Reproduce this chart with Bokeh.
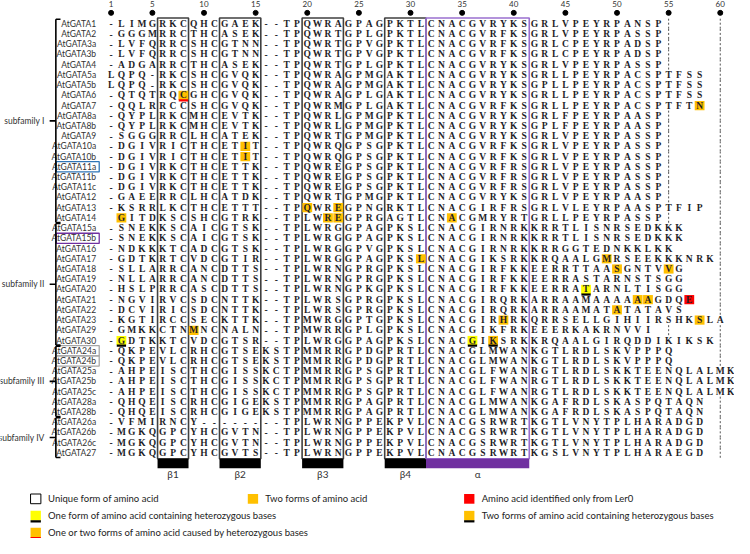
from bokeh.plotting import figure
from bokeh.models import Range1d
from bokeh.embed import file_html
from bokeh.resources import INLINE
from bokeh.core.properties import value

# ---------------- data ----------------
names = ["AtGATA1", "AtGATA2", "AtGATA3a", "AtGATA3b", "AtGATA4", "AtGATA5a", "AtGATA5b",
         "AtGATA6", "AtGATA7", "AtGATA8a", "AtGATA8b", "AtGATA9", "AtGATA10a", "AtGATA10b",
         "AtGATA11a", "AtGATA11b", "AtGATA11c", "AtGATA12", "AtGATA13", "AtGATA14",
         "AtGATA15a", "AtGATA15b", "AtGATA16", "AtGATA17", "AtGATA18", "AtGATA19", "AtGATA20",
         "AtGATA21", "AtGATA22", "AtGATA23", "AtGATA29", "AtGATA30", "AtGATA24a", "AtGATA24b",
         "AtGATA25a", "AtGATA25b", "AtGATA25c", "AtGATA28a", "AtGATA28b", "AtGATA26a",
         "AtGATA26b", "AtGATA26c", "AtGATA27"]

seqs = [
    "-LIMGRKCQHCGAEK--TPQWRAGPAGPKTLCNACGVRYKSGRLVPEYRPANSP",
    "-GGGMRRCTHCASEK--TPQWRTGPLGPKTLCNACGVRFKSGRLVPEYRPASSP",
    "-LVFQRRCSHCGTNN--TPQWRTGPVGPKTLCNACGVRFKSGRLCPEYRPADSP",
    "-LVFQRRCSHCGTNN--TPQWRTGPVGPKTLCNACGVRFKSGRLCPEYRPADSP",
    "-ADGARRCTHCASEK--TPQWRTGPLGPKTLCNACGVRYKSGRLVPEYRPASSP",
    "LQPQ-RKCSHCGVQK--TPQWRAGPMGAKTLCNACGVRYKSGRLLPEYRPACSPTFSS",
    "LQPQ-RKCSHCGVQK--TPQWRAGPMGAKTLCNACGVRYKSGPLLPEYRPACSPTFSS",
    "-QTQTRQCGHCGVQK--TPQWRAGPLGAKTLCNACGVRYKSGRLLPEYRPACSPTFSS",
    "-QQLRRCCSHCGVQK--TPQWRMGPLGAKTLCNACGVRFKSGRLLPEYRPACSPTFTN",
    "-QYPLRKCMHCEVTK--TPQWRLGPMGPKTLCNACGVRYKSGRLFPEYRPAASP",
    "-QYPLRKCMHCEVTK--TPQWRLGPMGPKTLCNACGVRYKSGPLFPEYRPAASP",
    "-SGGGRRCLHCATEK--TPQWRTGPMGPKTLCNACGVRYKSGRLVPEYRPASSP",
    "-DGIVRICTHCETIT--TPQWRQGPSGPKTLCNACGVRFKSGRLVPEYRPASSP",
    "-DGIVRICTHCETIT--TPQWRQGPSGPKTLCNACGVRFKSGRLVPEYRPASSP",
    "-DGIVRKCTHCETTK--TPQWREGPSGPKTLCNACGVRFRSGRLVPEYRPASSP",
    "-DGIVRKCTHCETTK--TPQWREGPSGPKTLCNACGVRFRSGRLVPEYRPASSP",
    "-DGIVRKCTHCETTK--TPQWREGPSGPKTLCNACGVRFRSGRLVPEYRPASSP",
    "-GAEERRCLHCATDK--TPQWRTGPMGPKTLCNACGVRYKSGRLVPEYRPAASP",
    "-KSRRLKCTHCETTT--TPQWREGPNGRKTLCNACGIRFRSGRLVLEYRPAASPTFIP",
    " GITDKSCSHCGTRK--TPLWREGPRGAGTLCNACGMRYRTGRLLPEYRPASSP",
    "-SNEKKSCAICGTSK--TPLWRGGPAGPKSLCNACGIRNRKKRRTLISNRSEDKKK",
    "-SNEKKSCAICGTSK--TPLWRGGPAGPKSLCNACGIRNRKKRRTLISNRSEDKKK",
    "-NDKKKTCADCGTSK--TPLWRGGPVGPKSLCNACGIRNRKKRRGGTEDNKKLKK",
    "-GDTKRTCVDCGTIR--TPLWRGGPAGPKSLCNACGIKSRKKRQAALGMRSEEKKKNRK",
    "-SLLARRCANCDTTS--TPLWRNGPRGPKSLCNACGIRFKKEERRTTAASGNTVVG",
    "-NLLARRCANCDTTS--TPLWRNGPRGPKSLCNACGIRFKKEERRASTARNSTSGG",
    "-HSLPRRCASCDTTS--TPLWRNGPKGPKSLCNACGIRFKKEERRATARNLTISGG",
    "-NGVIRVCSDCNTTK--TPLWRSGPRGPKSLCNACGIRQRKARRAAMAAAAAAGDQE",
    "-DCVIRICSDCNTTK--TPLWRSGPRGPKSLCNACGIRQRKARRAAMATATATAVS",
    "-KGTIRCCSECKTTK--TPMWRGGPTGPKSLCNACGIRHRKQRRSELLGIHIIRSHKSLA",
    "-GMKKCTNMNCNALN--TPMWRRGPLGPKSLCNACGIKFRKEEERKAKRNVVI",
    "-GDTKKTCVDCGTSR--TPLWRGGPAGPKSLCNACGIKSRKKRQAALGIRQDDIKIKSK",
    "-QKPEVLCRHCGTSEKSTPMMRRGPDGPRTLCNACGLMWANKGTLRDLSKVPPPQ",
    "-QKPEVLCRHCGTSEKSTPMMRRGPDGPRTLCNACGLMWANKGTLRDLSKVPPPQ",
    "-AHPEISCTHCGISSKCTPMMRRGPSGPRTLCNACGLFWANRGTLRDLSKKTEENQLALMK",
    "-AHPEISCTHCGISSKCTPMMRRGPSGPRTLCNACGLFWANRGTLRDLSKKTEENQLALMK",
    "-AHPEISCTHCGISSKCTPMMRRGPSGPRTLCNACGLFWANRGTLRDLSKKTEENQLALMK",
    "-QHQEISCRHCGIGEKSTPMMRRGPAGPRTLCNACGLMWANKGAFRDLSKASPQTAQN",
    "-QHQEISCRHCGIGEKSTPMMRRGPAGPRTLCNACGLMWANKGAFRDLSKASPQTAQN",
    "-VFMIRNCY--------TPLWRNGPPEKPVLCNACGSRWRTKGTLVNYTPLHARADGD",
    "-MGKQGPCYHCGVTN--TPLWRNGPPEKPVLCNACGSRWRTKGTLVNYTPLHARADGD",
    "-MGKQGPCYHCGVTN--TPLWRNGPPEKPVLCNACGSRWRTKGTLVNYTPLHARADGD",
    "-MGKQGPCYHCGVTS--TPLWRNGPPEKPVLCNACGSRWRTKGSLVNYTPLHARAEGD",
]

# highlighted residues: (sequence name, alignment column, kind)
hl_names = ["AtGATA6", "AtGATA7", "AtGATA10a", "AtGATA10b", "AtGATA13", "AtGATA13",
            "AtGATA14", "AtGATA14", "AtGATA14", "AtGATA14", "AtGATA17", "AtGATA17",
            "AtGATA18", "AtGATA18", "AtGATA20", "AtGATA21", "AtGATA21", "AtGATA21",
            "AtGATA22", "AtGATA23", "AtGATA23", "AtGATA29", "AtGATA30", "AtGATA30", "AtGATA30"]
hl_cols = [8, 58, 14, 14, 20, 23,
           2, 22, 23, 34, 31, 49,
           50, 55, 47, 52, 53, 57,
           50, 39, 58, 9, 2, 36, 38]
hl_kinds = ["orange_red", "orange", "orange", "orange", "orange", "orange",
            "orange", "orange", "orange", "orange", "orange", "orange",
            "orange", "orange", "yellow_ul", "orange", "orange", "red",
            "orange", "orange", "orange", "orange", "yellow_ul", "yellow_ul", "orange_ul"]

# secondary-structure regions (alignment columns)
struct_labels = ["β1", "β2", "β3", "β4", "α"]
struct_start = [6, 12, 20, 28, 32]
struct_end = [8, 15, 23, 31, 41]

# subfamilies (first/last row index, 1-based)
sub_labels = ["subfamily I", "subfamily II", "subfamily III", "subfamily IV"]
sub_first = [1, 21, 33, 40]
sub_last = [20, 32, 39, 43]

ruler_ticks = [1, 5, 10, 15, 20, 25, 30, 35, 40, 45, 50, 55, 60]
dashed_cols = [55, 60]

boxed_names = ["AtGATA11a", "AtGATA15b", "AtGATA24a", "AtGATA24b"]
boxed_colors = ["#2E75B6", "#7030A0", "#A6A6A6", "#A6A6A6"]

legend_labels = ["Unique form of amino acid", "Two forms of amino acid",
                 "Amino acid identified only from Ler0",
                 "One form of amino acid containing heterozygous bases",
                 "Two forms of amino acid containing heterozygous bases",
                 "One or two forms of amino acid caused by heterozygous bases"]
legend_kinds = ["empty", "orange", "red", "yellow_ul", "orange_ul", "orange_red"]

# ---------------- styles / layout ----------------
FILL = {"orange": "#FFC000", "orange_red": "#FFC000", "orange_ul": "#FFC000",
        "yellow_ul": "#FFFF00", "red": "#FF0000", "empty": "#FFFFFF"}
ULINE = {"orange_red": "#FF0000", "orange_ul": "#000000", "yellow_ul": "#000000"}

NAME_X = -0.45          # right edge of sequence names (column units)
BRACKET_X = -4.35
LABEL_X = -5.45
LEG_X = [-6.3, 14.74, 35.69, -6.3, 35.69, -6.3]
LEG_Y = [47.5, 47.5, 47.5, 49.15, 49.15, 50.8]

p = figure(width=734, height=538, output_backend="svg", toolbar_location=None,
           x_range=Range1d(-9.711, 61.379), y_range=Range1d(51.38, -1.281),
           min_border=0, x_axis_location=None, y_axis_location=None)
p.grid.visible = False
p.outline_line_color = None
p.background_fill_color = "white"

nrows = len(seqs)
row_of = {n: i + 1 for i, n in enumerate(names)}

# structure boxes
top_y = 0.43
bot_y = nrows + 0.57
for lab, s, e in zip(struct_labels, struct_start, struct_end):
    col = "#7030A0" if lab == "α" else "#000000"
    edge = "#9A70D0" if lab == "α" else "#404040"
    p.quad(left=s - 0.5, right=e + 0.5, top=top_y, bottom=bot_y,
           fill_color=None, line_color=edge, line_width=1.6)
    p.quad(left=s - 0.5, right=e + 0.5, top=bot_y, bottom=nrows + 1.5,
           fill_color=col, line_color=None)
    p.text(x=[(s + e) / 2], y=[nrows + 2.1], text=[lab], text_align="center",
           text_baseline="middle", text_font=value("Lato"), text_font_size="10px",
           text_color="#333333")

# dashed guide lines where the column is empty
for dc in dashed_cols:
    y0, y1 = [], []
    for r, s in enumerate(seqs, start=1):
        if len(s) < dc:
            y0.append(r - 0.5)
            y1.append(r + 0.5)
    p.segment(x0=[dc] * len(y0), x1=[dc] * len(y0), y0=y0, y1=y1,
              line_color="#555555", line_width=1, line_dash="2 2")

# highlighted cells
hx = hl_cols
hy = [row_of[n] for n in hl_names]
p.rect(x=hx, y=hy, width=0.95, height=0.9, fill_color=[FILL[k] for k in hl_kinds],
       line_color=None)
ux = [c for c, k in zip(hl_cols, hl_kinds) if k in ULINE]
uy = [row_of[n] for n, k in zip(hl_names, hl_kinds) if k in ULINE]
uc = [ULINE[k] for k in hl_kinds if k in ULINE]
p.segment(x0=[x - 0.45 for x in ux], x1=[x + 0.45 for x in ux],
          y0=[y + 0.5 for y in uy], y1=[y + 0.5 for y in uy], line_color=uc, line_width=2.2)

# residues
lx, ly, lt = [], [], []
for r, s in enumerate(seqs, start=1):
    for c, ch in enumerate(s, start=1):
        if ch != " ":
            lx.append(c)
            ly.append(r)
            lt.append(ch)
p.text(x=lx, y=ly, text=lt, text_align="center", text_baseline="middle",
       text_font=value("Liberation Serif"), text_font_style="bold",
       text_font_size="9.5px", text_color="#1E1E28")

# names
p.text(x=[NAME_X] * nrows, y=list(range(1, nrows + 1)), text=names, text_align="right",
       text_baseline="middle", text_font=value("Lato"), text_font_size="8.5px",
       text_color="#333333")
for n, colr in zip(boxed_names, boxed_colors):
    r = row_of[n]
    p.quad(left=BRACKET_X + 0.05, right=-0.15, top=r - 0.5, bottom=r + 0.5,
           fill_color=None, line_color=colr, line_width=1.3)

# ruler
p.scatter(x=ruler_ticks, y=[-0.07] * len(ruler_ticks), size=5, color="black")
p.text(x=ruler_ticks, y=[-0.95] * len(ruler_ticks), text=[str(t) for t in ruler_ticks],
       text_align="center", text_baseline="middle", text_font=value("Lato"),
       text_font_size="8px", text_color="#333333")

# subfamily brackets
for lab, a, b in zip(sub_labels, sub_first, sub_last):
    ya, yb = a - 0.45, b + 0.45
    ym = (a + b) / 2
    p.segment(x0=[BRACKET_X, BRACKET_X, BRACKET_X, BRACKET_X],
              x1=[BRACKET_X, BRACKET_X + 0.45, BRACKET_X + 0.45, BRACKET_X - 0.6],
              y0=[ya, ya, yb, ym], y1=[yb, ya, yb, ym], line_color="black", line_width=1.6)
    p.text(x=[LABEL_X], y=[ym], text=[lab], text_align="right", text_baseline="middle",
           text_font=value("Lato"), text_font_size="8.5px", text_color="#333333")

# legend
for lab, k, x, y in zip(legend_labels, legend_kinds, LEG_X, LEG_Y):
    p.rect(x=[x], y=[y], width=1.0, height=0.95, fill_color=FILL[k],
           line_color="black" if k == "empty" else None, line_width=1)
    if k in ULINE:
        p.segment(x0=[x - 0.5], x1=[x + 0.5], y0=[y + 0.55], y1=[y + 0.55],
                  line_color=ULINE[k], line_width=2.2)
    p.text(x=[x + 1.2], y=[y], text=[lab], text_align="left", text_baseline="middle",
           text_font=value("Lato"), text_font_size="9.5px", text_color="#222222")

open("out.html", "w").write(file_html(p, INLINE))
